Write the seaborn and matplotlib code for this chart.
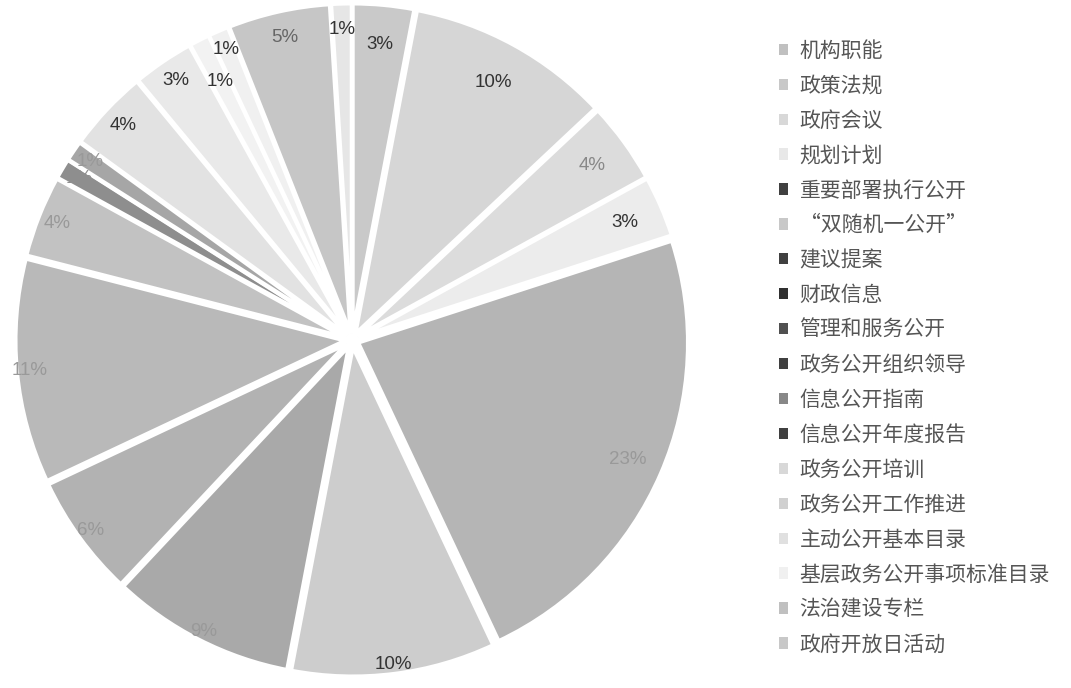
import numpy as np
import matplotlib
matplotlib.use("Agg")
import matplotlib.pyplot as plt
from matplotlib.patches import Patch
import seaborn as sns

sns.set_theme(style="white")
plt.rcParams['font.family'] = ['Noto Sans CJK SC', 'DejaVu Sans']

categories = ["机构职能", "政策法规", "政府会议", "规划计划", "重要部署执行公开",
              "“双随机一公开”", "建议提案", "财政信息", "管理和服务公开",
              "政务公开组织领导", "信息公开指南", "信息公开年度报告", "政务公开培训",
              "政务公开工作推进", "主动公开基本目录", "基层政务公开事项标准目录",
              "法治建设专栏", "政府开放日活动"]
values = [3, 10, 4, 3, 23, 10, 9, 6, 11, 4, 1, 1, 4, 3, 1, 1, 5, 1]

# styles
wedge_colors = ["#c9c9c9", "#d6d6d6", "#dcdcdc", "#ececec", "#b5b5b5", "#cdcdcd",
                "#a9a9a9", "#b2b2b2", "#b9b9b9", "#c2c2c2", "#8e8e8e", "#a6a6a6",
                "#e2e2e2", "#e9e9e9", "#f2f2f2", "#f0f0f0", "#c6c6c6", "#e6e6e6"]
legend_colors = ["#c0c0c0", "#c8c8c8", "#d8d8d8", "#e8e8e8", "#404040", "#c8c8c8",
                 "#404040", "#303030", "#505050", "#404040", "#888888", "#404040",
                 "#d8d8d8", "#d0d0d0", "#e0e0e0", "#f0f0f0", "#c0c0c0", "#c8c8c8"]
label_colors = ["#333333", "#333333", "#888888", "#333333", "#999999", "#333333",
                "#999999", "#999999", "#999999", "#999999", "#8e8e8e", "#999999",
                "#333333", "#333333", "#333333", "#333333", "#666666", "#333333"]
label_dist = [0.88, 0.87, 0.88, 0.88, 0.89, 0.97, 0.97, 0.96, 0.96, 0.94, 0.94, 0.94,
              0.93, 0.93, 0.86, 0.94, 0.92, 0.92]

W, H = 1071, 688
fig = plt.figure(figsize=(W / 100, H / 100), dpi=100)
fig.patch.set_facecolor("white")

R_px = 330
lim = 1.05
cx, cy = 352 / W, (H - 340) / H
w = 2 * R_px * lim / W
h = 2 * R_px * lim / H
ax = fig.add_axes([cx - w / 2, cy - h / 2, w, h])
ax.set_xlim(-lim, lim)
ax.set_ylim(-lim, lim)
ax.set_aspect("equal")
ax.axis("off")

wedges, texts, autotexts = ax.pie(
    values, colors=wedge_colors, startangle=90, counterclock=False,
    explode=[0.02] * len(values), radius=1.0,
    autopct="%1.0f%%", pctdistance=0.9,
    wedgeprops=dict(edgecolor="white", linewidth=3),
    textprops=dict(fontsize=13.5, family=['Liberation Sans', 'DejaVu Sans']),
)
ax.set_xlim(-lim, lim)
ax.set_ylim(-lim, lim)

for wdg, t, d, c in zip(wedges, autotexts, label_dist, label_colors):
    ang = np.deg2rad((wdg.theta1 + wdg.theta2) / 2)
    cxw, cyw = wdg.center
    t.set_position((cxw + d * np.cos(ang), cyw + d * np.sin(ang)))
    t.set_color(c)

handles = [Patch(facecolor=c, edgecolor="none") for c in legend_colors]
fig.legend(handles, categories, loc="upper left",
           bbox_to_anchor=(760 / W, 1 - 21 / H), frameon=False,
           fontsize=15, labelspacing=0.62, handlelength=0.45, handleheight=0.45,
           handletextpad=0.55, labelcolor="#555555")

fig.savefig("out.png", dpi=100, facecolor="white")
